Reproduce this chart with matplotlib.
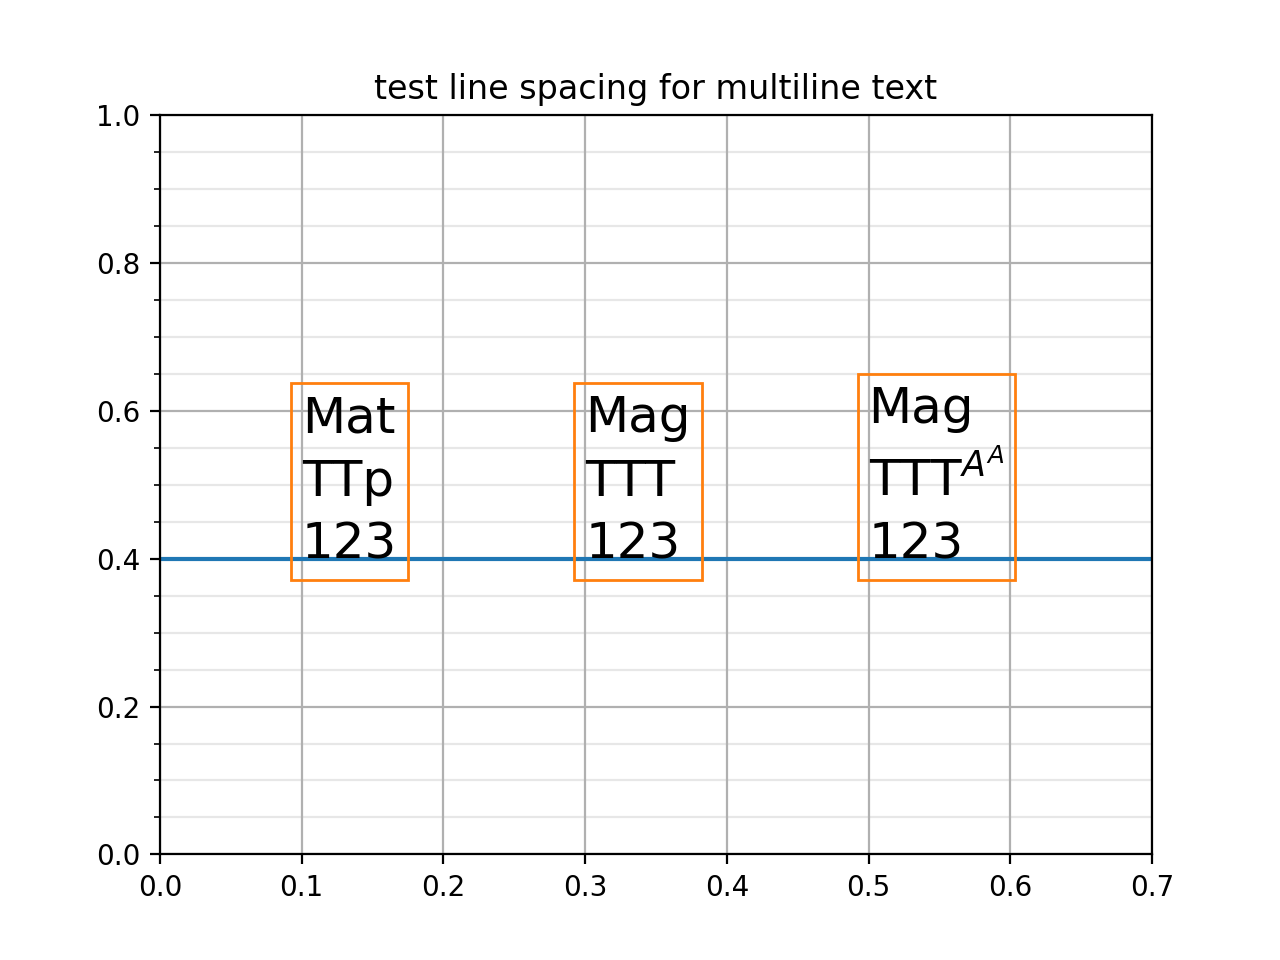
import matplotlib
matplotlib.use("Agg")
from matplotlib import pyplot as plt
from matplotlib.ticker import AutoMinorLocator

# text samples and where they sit
xpos = [0.1, 0.3, 0.5]
labels = ["Mat\nTTp\n123", "Mag\nTTT\n123", "Mag\nTTT$^{A^A}$\n123"]
ybase = 0.4

fig, ax = plt.subplots(figsize=(6.4, 4.8), dpi=200)
ax.set_xlim(0, 0.7)
ax.set_ylim(0, 1)
ax.set_title("test line spacing for multiline text")

ax.axhline(ybase, color="C0")
for x, s in zip(xpos, labels):
    ax.text(x, ybase, s, fontsize=18, va="baseline", linespacing=1.4,
            bbox=dict(fc="none", ec="C1"))

ax.yaxis.set_minor_locator(AutoMinorLocator())
ax.grid(True, which="major")
ax.grid(True, which="minor", axis="y", alpha=0.3)

fig.savefig("out.png")
